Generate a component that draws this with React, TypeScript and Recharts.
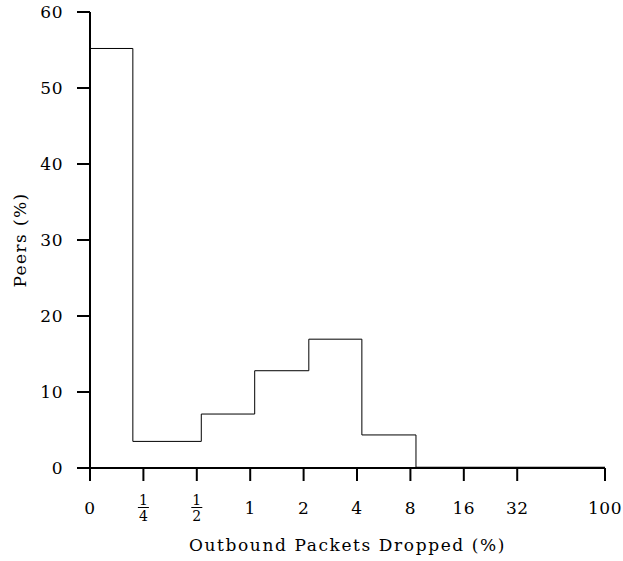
import React from "react";
import { LineChart, Line, XAxis, YAxis, Label } from "recharts";

// bin edges in % of outbound packets dropped (log2 axis, 0 pinned at the left)
const binEdges = [0, 0.218, 0.53, 1.06, 2.14, 4.26, 8.6, 100];
const peersPct = [55.2, 3.5, 7.1, 12.8, 16.95, 4.35, 0.1];

const xTickValues = [0, 0.25, 0.5, 1, 2, 4, 8, 16, 32, 100];
const xTickLabels = ["0", "1/4", "1/2", "1", "2", "4", "8", "16", "32", "100"];
const yTickValues = [0, 10, 20, 30, 40, 50, 60];

const FONT = "'DejaVu Serif', serif";

// 1/4 sits one decade-of-two from 1/2 etc.; 0 takes the slot of 1/8
const pos = (v: number) => (v === 0 ? 0 : Math.log2(v) + 3);

const data = binEdges.map((e, i) => ({
  pos: pos(e),
  peers: peersPct[Math.min(i, peersPct.length - 1)],
}));

function XTick(props: any) {
  const { x, y, payload } = props;
  const idx = xTickValues.findIndex(v => Math.abs(pos(v) - payload.value) < 1e-6);
  const label = xTickLabels[idx] ?? "";
  if (label.includes("/")) {
    const [num, den] = label.split("/");
    return (
      <g>
        <text x={x} y={y + 24} textAnchor="middle" fontFamily={FONT} fontSize={14} fill="#000">{num}</text>
        <line x1={x - 5.5} x2={x + 5.5} y1={y + 26.5} y2={y + 26.5} stroke="#000" strokeWidth={1} />
        <text x={x} y={y + 40} textAnchor="middle" fontFamily={FONT} fontSize={14} fill="#000">{den}</text>
      </g>
    );
  }
  return (
    <text x={x} y={y + 33} textAnchor="middle" fontFamily={FONT} fontSize={17} letterSpacing={0.5} fill="#000">{label}</text>
  );
}

function YTick(props: any) {
  const { x, y, payload } = props;
  return (
    <text x={x} y={y + 6} textAnchor="end" fontFamily={FONT} fontSize={17} letterSpacing={0.5} fill="#000">{payload.value}</text>
  );
}

export default function App() {
  return (
    <div style={{ position: "absolute", left: 0, top: 0, background: "#fff" }}>
      <LineChart width={623} height={561} data={data} margin={{ top: 12, right: 18, left: 0, bottom: 0 }}>
        <XAxis
          dataKey="pos" type="number" domain={[0, pos(100)]} ticks={xTickValues.map(pos)}
          allowDataOverflow interval={0} height={93} tickSize={13} tickMargin={0}
          axisLine={{ stroke: "#000", strokeWidth: 2 }} tickLine={{ stroke: "#000", strokeWidth: 2 }}
          tick={<XTick />}
        >
          <Label
            content={(p: any) => (
              <text x={p.viewBox.x + p.viewBox.width / 2} y={551} textAnchor="middle" fontFamily={FONT} fontSize={17} letterSpacing={1.6} fill="#000">
                Outbound Packets Dropped (%)
              </text>
            )}
          />
        </XAxis>
        <YAxis
          type="number" domain={[0, 60]} ticks={yTickValues} interval={0} width={90}
          tickSize={13} tickMargin={14}
          axisLine={{ stroke: "#000", strokeWidth: 2 }} tickLine={{ stroke: "#000", strokeWidth: 2 }}
          tick={<YTick />}
        >
          <Label
            content={(p: any) => {
              const cy = p.viewBox.y + p.viewBox.height / 2;
              return (
                <text x={26} y={cy} transform={`rotate(-90, 26, ${cy})`} textAnchor="middle" fontFamily={FONT} fontSize={17} letterSpacing={1.4} fill="#000">
                  Peers (%)
                </text>
              );
            }}
          />
        </YAxis>
        <Line type="stepAfter" dataKey="peers" stroke="#000" strokeWidth={1} dot={false} isAnimationActive={false} />
      </LineChart>
    </div>
  );
}
